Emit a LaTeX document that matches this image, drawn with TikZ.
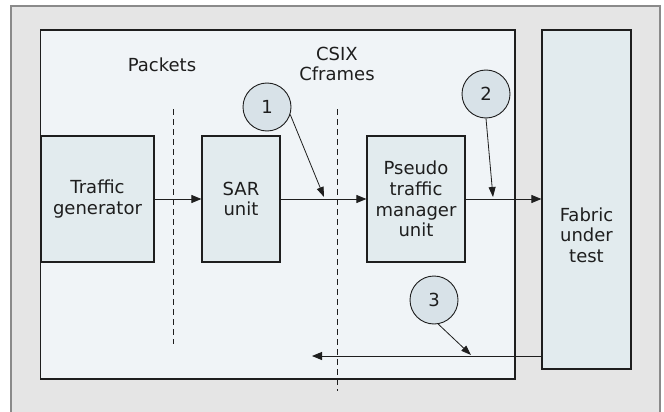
\documentclass[tikz,border=0pt]{standalone}
\usepackage{fontspec}
\setmainfont{DejaVu Sans}
\usetikzlibrary{arrows.meta}
\definecolor{outerbg}{HTML}{E5E5E5}
\definecolor{outerline}{HTML}{8A8A8A}
\definecolor{innerbg}{HTML}{F0F4F7}
\definecolor{boxbg}{HTML}{E2EBEE}
\definecolor{circbg}{HTML}{D8E2E8}
\definecolor{ink}{HTML}{1E1E1E}
\begin{document}
\begin{tikzpicture}[x=1pt,y=-1pt,
  every node/.style={font=\fontsize{18}{20.7}\selectfont, text=ink},
  unitbox/.style={draw=ink, line width=1.2pt, fill=boxbg, inner sep=0pt, align=center},
  numcirc/.style={circle, draw=ink, line width=0.9pt, fill=circbg, minimum size=48pt, inner sep=0pt},
  flow/.style={draw=ink, line width=0.9pt, -{Triangle[length=10pt,width=8pt]}},
  pointer/.style={draw=ink, line width=0.8pt, -{Triangle[length=10pt,width=7pt]}},
  divider/.style={draw=ink, line width=0.9pt, dash pattern=on 6pt off 4pt}]
\useasboundingbox (0,0) rectangle (664,412);
% outer background
\fill[outerbg] (11,6) rectangle (660,415);
\draw[outerline, line width=1.4pt] (11,415) -- (11,6) -- (660,6) -- (660,415);
% inner area
\node[draw=ink, line width=1.2pt, fill=innerbg, minimum width=474.5pt, minimum height=349pt, inner sep=0pt] (inner) at (277.75,204.5) {};
% units
\node[unitbox, minimum width=113pt, minimum height=126pt] (tg) at (97.5,199) {Traffic\\generator};
\node[unitbox, minimum width=78pt, minimum height=126pt] (sar) at (241,199) {SAR\\unit};
\node[unitbox, minimum width=98pt, minimum height=126pt] (ptm) at (416,199) {Pseudo\\traffic\\manager\\unit};
\node[unitbox, minimum width=89pt, minimum height=339pt] (fab) at (586.5,199.5) {};
\node[align=center] (fabt) at (586.5,235) {Fabric\\under\\test};
% labels
\node (pk) at (162,65) {Packets};
\node[align=center] (csix) at (337,64) {CSIX\\Cframes};
% dividers
\coordinate (d1t) at (173,109);
\coordinate (d1b) at (173,344);
\coordinate (d2t) at (337,109);
\coordinate (d2b) at (337,391);
\draw[divider] (d1t) -- (d1b);
\draw[divider] (d2t) -- (d2b);
% flow arrows
\draw[flow] (tg.east) -- (sar.west);
\draw[flow] (sar.east) -- (ptm.west);
\draw[flow] (ptm.east) -- (fab.west |- ptm.east);
\coordinate (r3end) at (312,356);
\draw[flow] (fab.west |- r3end) -- (r3end);
% numbered circles
\node[numcirc] (c1) at (267,107) {1};
\node[numcirc] (c2) at (486,94) {2};
\node[numcirc] (c3) at (434,300) {3};
\coordinate (p1) at (324,197);
\coordinate (p2) at (493,197);
\coordinate (p3) at (471,355);
\draw[pointer] (c1.-18) -- (p1);
\draw[pointer] (c2.south) -- (p2);
\draw[pointer] (c3.-80) -- (p3);
\end{tikzpicture}
\end{document}
